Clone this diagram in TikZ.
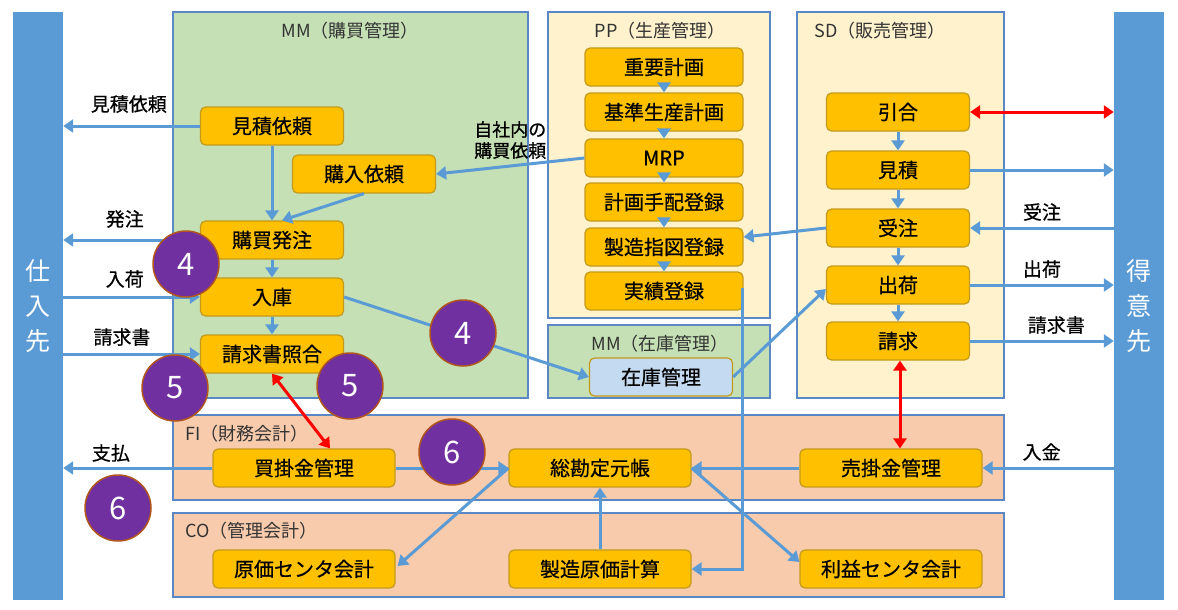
\documentclass[tikz,border=0pt]{standalone}
\usepackage{fontspec}
\setmainfont{Noto Sans CJK JP}
\newfontfamily\medfont{Noto Sans CJK JP}[FakeBold=0.6]
\usetikzlibrary{arrows.meta,calc}
\definecolor{grpline}{HTML}{5B87C5}
\definecolor{barblue}{HTML}{5B9BD5}
\definecolor{flowblue}{HTML}{5B9BD5}
\definecolor{procfill}{HTML}{FFC000}
\definecolor{procline}{HTML}{C49A1C}
\definecolor{mmgreen}{HTML}{C5E0B4}
\definecolor{cream}{HTML}{FFF2CC}
\definecolor{salmon}{HTML}{F8CBAD}
\definecolor{stockblue}{HTML}{C3DAF0}
\definecolor{badgepurple}{HTML}{7030A0}
\definecolor{badgeedge}{HTML}{B0561E}
\definecolor{titlegray}{HTML}{333333}
\tikzset{
  grp/.style={draw=grpline, line width=1.6pt},
  proc/.style={draw=procline, fill=procfill, rounded corners=5pt, line width=1.2pt,
    minimum width=143pt, minimum height=38pt, inner sep=0pt,
    font=\medfont\fontsize{20}{22}\selectfont},
  wide/.style={proc, minimum width=158pt},
  fin/.style={proc, minimum width=182pt},
  grptitle/.style={text=titlegray, font=\fontsize{18}{20}\selectfont, inner sep=0pt},
  elabel/.style={font=\medfont\fontsize{19}{21}\selectfont, inner sep=0pt, text=black},
  flow/.style={draw=flowblue, line width=3pt, -{Triangle[length=10pt,width=13pt]}},
  bothred/.style={draw=red, line width=3pt, {Triangle[length=10pt,width=13pt]}-{Triangle[length=10pt,width=13pt]}},
  sidebar/.style={fill=barblue, inner sep=0pt, minimum width=50pt, minimum height=588pt,
    text=white, align=center, font=\fontsize{25}{35}\selectfont},
  badge/.style={circle, fill=badgepurple, draw=badgeedge, line width=1.5pt,
    minimum size=66pt, inner sep=0pt, text=white, font=\fontsize{31}{33}\selectfont}
}
\begin{document}
\begin{tikzpicture}[x=1pt,y=-1pt]
\useasboundingbox (0,0) rectangle (1178,610);
% group boxes
\draw[grp, fill=mmgreen] (173,12) rectangle (528,398);
\draw[grp, fill=cream] (548,12) rectangle (770,318);
\draw[grp, fill=cream] (797,12) rectangle (1004,398);
\draw[grp, fill=mmgreen] (548,325) rectangle (770,398);
\draw[grp, fill=salmon] (173,415) rectangle (1004,500);
\draw[grp, fill=salmon] (173,513) rectangle (1004,597);
\node[grptitle] (tmm) at (350,31) {MM（購買管理）};
\node[grptitle] (tpp) at (660,31) {PP（生産管理）};
\node[grptitle] (tsd) at (880,31) {SD（販売管理）};
\node[grptitle] (tst) at (660,344) {MM（在庫管理）};
\node[grptitle, anchor=west] (tfi) at (185,434) {FI（財務会計）};
\node[grptitle, anchor=west] (tco) at (185,531) {CO（管理会計）};
% side bars
\node[sidebar] (sup) at (38,306) {仕\\入\\先};
\node[sidebar] (cus) at (1139,306) {得\\意\\先};
% MM nodes
\node[proc] (mitsu) at (272,126) {見積依頼};
\node[proc] (konyu) at (364,174) {購入依頼};
\node[proc] (hatchu) at (272,240) {購買発注};
\node[proc] (nyuko) at (272,297) {入庫};
\node[proc] (shokai) at (272,354) {請求書照合};
% PP nodes
\node[wide] (juyo) at (664,67) {重要計画};
\node[wide] (kijun) at (664,112) {基準生産計画};
\node[wide] (mrp) at (664,158) {MRP};
\node[wide] (keikaku) at (664,202) {計画手配登録};
\node[wide] (seizo) at (664,247) {製造指図登録};
\node[wide] (jisseki) at (664,291) {実績登録};
% stock
\node[proc, fill=stockblue] (zaiko) at (661,377) {在庫管理};
% SD nodes
\node[proc] (hikiai) at (898,112) {引合};
\node[proc] (mitsumori) at (898,170) {見積};
\node[proc] (juchu) at (898,228) {受注};
\node[proc] (shukka) at (898,285) {出荷};
\node[proc] (seikyu) at (898,341) {請求};
% FI nodes
\node[fin] (kaikake) at (304,468) {買掛金管理};
\node[fin] (sokanjo) at (600,468) {総勘定元帳};
\node[fin] (urikake) at (891,468) {売掛金管理};
% CO nodes
\node[fin] (genkacenter) at (304,569) {原価センタ会計};
\node[fin] (seizogenka) at (600,569) {製造原価計算};
\node[fin] (rieki) at (891,569) {利益センタ会計};
% helper coordinates
\coordinate (hatchuin) at ($(hatchu.north)+(10,0)$);
\coordinate (jissekiout) at ($(jisseki.east)+(-1,-3)$);
\coordinate (seizoin) at ($(seizo.east)+(0,-10)$);
\coordinate (shukkain) at ($(shukka.west)+(0,4)$);
\coordinate (genkain) at ($(genkacenter.east)+(2,-3)$);
\coordinate (riekiin) at ($(rieki.west)+(0,-7)$);
\coordinate (kaikakein) at ($(kaikake.north)+(26,0)$);
\coordinate (seikyuout) at ($(seikyu.south)+(2,0)$);
% MM flows
\draw[flow] (mitsu.west) -- node[elabel, pos=0.52, yshift=22pt] {見積依頼} (mitsu.west -| sup.east);
\draw[flow] (hatchu.west) -- node[elabel, pos=0.55, yshift=21pt] {発注} (hatchu.west -| sup.east);
\draw[flow] (nyuko.west -| sup.east) -- node[elabel, pos=0.45, yshift=18pt] {入荷} (nyuko.west);
\draw[flow] (shokai.west -| sup.east) -- node[elabel, pos=0.43, yshift=17pt] {請求書} (shokai.west);
\draw[flow] (kaikake.west) -- node[elabel, pos=0.68, yshift=15pt] {支払} (kaikake.west -| sup.east);
\draw[flow] (mitsu.south) -- (hatchu.north);
\draw[flow] (konyu.south) -- (hatchuin);
\draw[flow] (hatchu.south) -- (nyuko.north);
\draw[flow] (nyuko.south) -- (shokai.north);
\draw[flow] (mrp.west) -- node[elabel, align=center, pos=0.5, yshift=26pt, font=\medfont\fontsize{18}{21}\selectfont] {自社内の\\購買依頼} (konyu.east);
\draw[flow] (nyuko.east) -- (zaiko.west);
% PP flows
\draw[flow] (juyo.south) -- (kijun.north);
\draw[flow] (kijun.south) -- (mrp.north);
\draw[flow] (mrp.south) -- (keikaku.north);
\draw[flow] (keikaku.south) -- (seizo.north);
\draw[flow] (seizo.south) -- (jisseki.north);
\draw[flow] (jissekiout) |- (seizogenka.east);
% SD flows
\draw[flow] (hikiai.south) -- (mitsumori.north);
\draw[flow] (mitsumori.south) -- (juchu.north);
\draw[flow] (juchu.south) -- (shukka.north);
\draw[flow] (shukka.south) -- (seikyu.north);
\draw[bothred] (hikiai.east) -- (hikiai.east -| cus.west);
\draw[flow] (mitsumori.east) -- (mitsumori.east -| cus.west);
\draw[flow] (juchu.east -| cus.west) -- node[elabel, pos=0.5, yshift=16pt] {受注} (juchu.east);
\draw[flow] (shukka.east) -- node[elabel, pos=0.5, yshift=16pt] {出荷} (shukka.east -| cus.west);
\draw[flow] (seikyu.east) -- node[elabel, pos=0.6, yshift=16pt] {請求書} (seikyu.east -| cus.west);
\draw[flow] (urikake.east -| cus.west) -- node[elabel, pos=0.55, yshift=16pt] {入金} (urikake.east);
\draw[flow] (juchu.west) -- (seizoin);
\draw[flow] (zaiko.east) -- (shukkain);
% FI / CO flows
\draw[flow] (kaikake.east) -- (sokanjo.west);
\draw[flow] (urikake.west) -- (sokanjo.east);
\draw[flow] (seizogenka.north) -- (sokanjo.south);
\draw[flow] (sokanjo.west) -- (genkain);
\draw[flow] (sokanjo.east) -- (riekiin);
\draw[bothred] (shokai.south) -- (kaikakein);
\draw[bothred] (seikyuout) -- (seikyuout |- urikake.north);
% badges
\node[badge] (b4a) at (186,264) {4};
\node[badge] (b4b) at (463,333) {4};
\node[badge] (b5a) at (175,388) {5};
\node[badge] (b5b) at (350,386) {5};
\node[badge] (b6a) at (452,452) {6};
\node[badge] (b6b) at (118,508) {6};
\end{tikzpicture}
\end{document}
